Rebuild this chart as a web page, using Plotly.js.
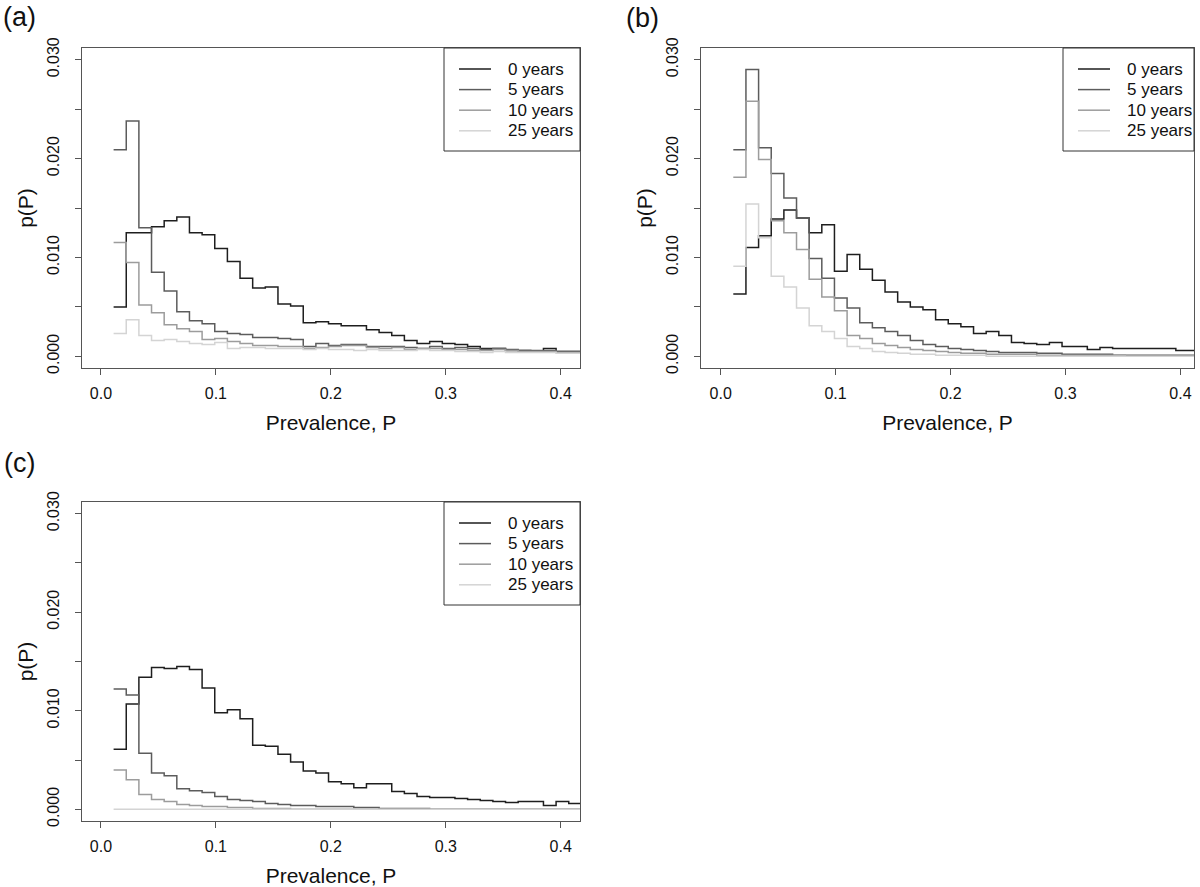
<!DOCTYPE html>
<html>
<head>
<meta charset="utf-8">
<script src="https://cdn.plot.ly/plotly-3.0.1.min.js"></script>
<style>html,body{margin:0;padding:0;background:#fff;}#chart{width:1200px;height:887px;}</style>
</head>
<body>
<div id="chart"></div>
<script>
// Bin edges of prevalence (left edge of each bin, plus final right edge)
const binEdges = [0.011,0.022,0.033,0.044,0.055,0.066,0.077,0.088,0.099,0.110,0.121,0.132,0.143,0.154,0.165,0.176,0.187,0.198,0.209,0.220,0.231,0.242,0.253,0.264,0.275,0.286,0.297,0.308,0.319,0.330,0.341,0.352,0.363,0.374,0.385,0.396,0.407,0.418];

const seriesNames = ["0 years","5 years","10 years","25 years"];
const panelLabels = ["(a)","(b)","(c)"];
const yTickVals = [0,0.005,0.010,0.015,0.020,0.025,0.030];
const yTickText = ["0.000","","0.010","","0.020","","0.030"];
const xTickVals = [0,0.1,0.2,0.3,0.4];
const xTickText = ["0.0","0.1","0.2","0.3","0.4"];

// Panel (a)
const a0  = [0.0050,0.0125,0.0125,0.0131,0.0137,0.0141,0.0125,0.0123,0.0109,0.0096,0.0079,0.0069,0.0070,0.0053,0.0051,0.0034,0.0035,0.0033,0.0031,0.0031,0.0027,0.0024,0.0021,0.0016,0.0013,0.0015,0.0013,0.0012,0.0010,0.0008,0.0008,0.0006,0.0006,0.0005,0.0008,0.0005,0.0005];
const a5  = [0.0209,0.0238,0.0130,0.0085,0.0066,0.0045,0.0036,0.0033,0.0025,0.0023,0.0022,0.0019,0.0019,0.0018,0.0017,0.0010,0.0013,0.0011,0.0012,0.0012,0.0010,0.0010,0.0010,0.0009,0.0008,0.0010,0.0008,0.0009,0.0008,0.0007,0.0008,0.0007,0.0006,0.0006,0.0006,0.0005,0.0005];
const a10 = [0.0115,0.0095,0.0052,0.0044,0.0032,0.0028,0.0025,0.0017,0.0018,0.0015,0.0013,0.0011,0.0011,0.0010,0.0010,0.0008,0.0009,0.0010,0.0011,0.0011,0.0009,0.0008,0.0009,0.0007,0.0008,0.0008,0.0007,0.0007,0.0006,0.0006,0.0007,0.0006,0.0005,0.0005,0.0005,0.0004,0.0004];
const a25 = [0.0023,0.0037,0.0021,0.0016,0.0017,0.0015,0.0013,0.0012,0.0014,0.0008,0.0009,0.0009,0.0008,0.0008,0.0008,0.0007,0.0008,0.0007,0.0007,0.0006,0.0007,0.0006,0.0006,0.0006,0.0007,0.0006,0.0006,0.0005,0.0005,0.0004,0.0005,0.0004,0.0004,0.0004,0.0004,0.0003,0.0003];

// Panel (b)
const b0  = [0.0063,0.0110,0.0122,0.0139,0.0148,0.0140,0.0125,0.0133,0.0086,0.0103,0.0088,0.0077,0.0065,0.0055,0.0050,0.0047,0.0037,0.0033,0.0030,0.0023,0.0025,0.0021,0.0014,0.0013,0.0012,0.0014,0.0010,0.0010,0.0007,0.0009,0.0008,0.0008,0.0008,0.0008,0.0008,0.0006,0.0006];
const b5  = [0.0209,0.0290,0.0211,0.0185,0.0160,0.0140,0.0099,0.0079,0.0059,0.0049,0.0034,0.0029,0.0025,0.0021,0.0016,0.0012,0.0010,0.0008,0.0007,0.0006,0.0005,0.0004,0.0004,0.0004,0.0003,0.0003,0.0002,0.0002,0.0002,0.0002,0.0001,0.0001,0.0001,0.0001,0.0001,0.0001,0.0001];
const b10 = [0.0181,0.0258,0.0199,0.0137,0.0125,0.0108,0.0078,0.0060,0.0046,0.0021,0.0018,0.0013,0.0011,0.0009,0.0007,0.0006,0.0005,0.0004,0.0003,0.0003,0.0002,0.0002,0.0002,0.0002,0.0001,0.0001,0.0001,0.0001,0.0001,0.0001,0.0001,0.0000,0.0000,0.0000,0.0000,0.0000,0.0000];
const b25 = [0.0091,0.0154,0.0120,0.0081,0.0070,0.0049,0.0031,0.0025,0.0018,0.0010,0.0008,0.0005,0.0004,0.0003,0.0002,0.0002,0.0001,0.0001,0.0001,0.0001,0.0000,0.0000,0.0000,0.0000,0.0000,0.0000,0.0000,0.0000,0.0000,0.0000,0.0000,0.0000,0.0000,0.0000,0.0000,0.0000,0.0000];

// Panel (c)
const c0  = [0.0061,0.0107,0.0134,0.0144,0.0143,0.0145,0.0142,0.0123,0.0098,0.0101,0.0092,0.0065,0.0064,0.0056,0.0048,0.0039,0.0037,0.0028,0.0026,0.0022,0.0026,0.0026,0.0018,0.0016,0.0013,0.0012,0.0012,0.0011,0.0010,0.0009,0.0008,0.0007,0.0008,0.0008,0.0004,0.0008,0.0006];
const c5  = [0.0122,0.0116,0.0057,0.0037,0.0034,0.0021,0.0019,0.0017,0.0013,0.0010,0.0009,0.0008,0.0006,0.0005,0.0004,0.0004,0.0003,0.0003,0.0003,0.0002,0.0002,0.0001,0.0001,0.0001,0.0001,0.0000,0.0000,0.0000,0.0000,0.0000,0.0000,0.0000,0.0000,0.0000,0.0000,0.0000,0.0000];
const c10 = [0.0040,0.0030,0.0015,0.0010,0.0008,0.0005,0.0004,0.0003,0.0003,0.0002,0.0002,0.0001,0.0001,0.0001,0.0000,0.0000,0.0000,0.0000,0.0000,0.0000,0.0000,0.0000,0.0000,0.0000,0.0000,0.0000,0.0000,0.0000,0.0000,0.0000,0.0000,0.0000,0.0000,0.0000,0.0000,0.0000,0.0000];
const c25 = [0.0000,0.0000,0.0000,0.0000,0.0000,0.0000,0.0000,0.0000,0.0000,0.0000,0.0000,0.0000,0.0000,0.0000,0.0000,0.0000,0.0000,0.0000,0.0000,0.0000,0.0000,0.0000,0.0000,0.0000,0.0000,0.0000,0.0000,0.0000,0.0000,0.0000,0.0000,0.0000,0.0000,0.0000,0.0000,0.0000,0.0000];

const panels = [[a0,a5,a10,a25],[b0,b5,b10,b25],[c0,c5,c10,c25]];
const lineColors = ["#1e1e1e","#5c5c5c","#9c9c9c","#d4d4d4"];

const FONT = "Liberation Sans, Arial, Helvetica, sans-serif";
const W = 1200, H = 887;

// plot boxes in pixels: [left, right, top, bottom]
const boxes = [[82,580,48,368],[701,1194,48,368],[82,580,502,821]];
const xRanges = [[-0.0165,0.4168],[-0.0171,0.4118],[-0.0165,0.4168]];
const yRange = [-0.00118,0.03118];
// legend boxes in pixels: [left, right, top, bottom]
const legendBoxes = [[444,580,48,151],[1063,1194,48,151],[444,580,502,605]];

const traces = [];
panels.forEach((series, p) => {
  const sfx = p === 0 ? "" : String(p + 1);
  series.forEach((vals, s) => {
    traces.push({
      type: "scatter",
      mode: "lines",
      x: binEdges,
      y: vals.concat([vals[vals.length - 1]]),
      line: {shape: "hv", color: lineColors[s], width: 1.5},
      name: seriesNames[s],
      xaxis: "x" + sfx,
      yaxis: "y" + sfx,
      showlegend: false,
      hoverinfo: "x+y+name"
    });
  });
});

const layout = {
  width: W, height: H,
  margin: {l: 0, r: 0, t: 0, b: 0},
  paper_bgcolor: "#fff",
  plot_bgcolor: "#fff",
  font: {family: FONT, color: "#111"},
  annotations: [],
  shapes: [],
  showlegend: false
};

const px = x => x / W;
const py = y => 1 - y / H;

boxes.forEach((b, p) => {
  const sfx = p === 0 ? "" : String(p + 1);
  layout["xaxis" + sfx] = {
    domain: [px(b[0]), px(b[1])],
    range: xRanges[p],
    anchor: "y" + sfx,
    tickmode: "array", tickvals: xTickVals, ticktext: xTickText,
    ticks: "outside", ticklen: 6, tickcolor: "#555", tickwidth: 1,
    showline: true, mirror: true, linecolor: "#555", linewidth: 1.2,
    showgrid: false, zeroline: false,
    tickfont: {size: 16, family: FONT, color: "#111"},
    ticklabelstandoff: 5,
    title: {text: "Prevalence, P", standoff: 13, font: {size: 21, family: FONT, color: "#111"}}
  };
  layout["yaxis" + sfx] = {
    domain: [py(b[3]), py(b[2])],
    range: yRange,
    anchor: "x" + sfx,
    tickmode: "array", tickvals: yTickVals, ticktext: yTickText,
    tickangle: -90,
    ticks: "outside", ticklen: 6, tickcolor: "#555", tickwidth: 1,
    showline: true, mirror: true, linecolor: "#555", linewidth: 1.2,
    showgrid: false, zeroline: false,
    tickfont: {size: 16, family: FONT, color: "#111"},
    ticklabelstandoff: 9,
    title: {text: "p(P)", standoff: 6, font: {size: 21, family: FONT, color: "#111"}}
  };

  // legend box drawn in each panel's top-right corner
  const lb = legendBoxes[p];
  layout.shapes.push({
    type: "rect", xref: "paper", yref: "paper",
    x0: px(lb[0]), x1: px(lb[1]), y0: py(lb[3]), y1: py(lb[2]),
    line: {color: "#333", width: 1}, fillcolor: "rgba(255,255,255,0)", layer: "above"
  });
  seriesNames.forEach((nm, s) => {
    const rowY = lb[2] + 21 + s * 20.6;
    layout.shapes.push({
      type: "line", xref: "paper", yref: "paper",
      x0: px(lb[0] + 15), x1: px(lb[0] + 47), y0: py(rowY), y1: py(rowY),
      line: {color: lineColors[s], width: 1.5}, layer: "above"
    });
    layout.annotations.push({
      text: nm, xref: "paper", yref: "paper",
      x: px(lb[0] + 62), y: py(rowY), xanchor: "left", yanchor: "middle",
      showarrow: false, font: {size: 17, family: FONT, color: "#111"}
    });
  });
});

const labelPos = [[19,17],[642,18],[19,463]];
panelLabels.forEach((t, i) => {
  layout.annotations.push({
    text: t, xref: "paper", yref: "paper",
    x: px(labelPos[i][0]), y: py(labelPos[i][1]),
    xanchor: "center", yanchor: "middle", showarrow: false,
    font: {size: 27, family: FONT, color: "#111"}
  });
});

Plotly.newPlot("chart", traces, layout, {staticPlot: true, displayModeBar: false});
</script>
</body>
</html>
